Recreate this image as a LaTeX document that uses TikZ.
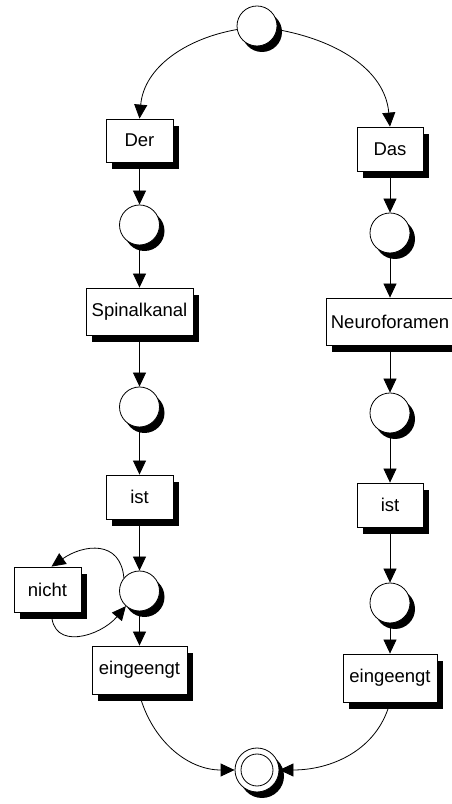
\documentclass[tikz,border=0pt]{standalone}
\usepackage{fontspec}
\setmainfont{Liberation Sans}
\usetikzlibrary{shadows,arrows.meta}
\begin{document}
\begin{tikzpicture}[x=1pt,y=1pt,
  every node/.style={font=\fontsize{18.5}{22}\selectfont},
  wordbox/.style={draw, fill=white, line width=0.8pt, minimum height=45pt, inner sep=2pt,
    general shadow={fill=black, shadow xshift=6pt, shadow yshift=-7pt}},
  state/.style={circle, draw, fill=white, line width=0.8pt, minimum size=40pt, inner sep=0pt,
    general shadow={fill=black, shadow xshift=5pt, shadow yshift=-6pt}},
  arr/.style={line width=0.8pt, -{Triangle[width=13pt,length=14pt]}}]
\useasboundingbox (0,0) rectangle (451,804);

% states
\node[state] (start) at (257,778) {};
\node[state, minimum size=44pt] (final) at (257,34) {};
\node[circle, draw, line width=0.8pt, minimum size=32pt, inner sep=0pt] (finalin) at (257,34) {};

% left branch
\node[wordbox, minimum width=67pt, minimum height=43pt] (der) at (139.5,663.5) {Der};
\node[state] (l1) at (139.5,579) {};
\node[wordbox, minimum width=107pt, minimum height=47pt] (spinal) at (139.5,492.5) {Spinalkanal};
\node[state] (l2) at (139.5,397) {};
\node[wordbox, minimum width=67pt, minimum height=44pt] (ist1) at (139.5,307) {ist};
\node[state] (l3) at (139.5,213) {};
\node[wordbox, minimum width=67pt] (nicht) at (47.5,214.5) {nicht};
\node[wordbox, minimum width=95pt, minimum height=48pt] (ein1) at (139.5,134) {eingeengt};

% right branch
\node[wordbox, minimum width=66pt, minimum height=44pt] (das) at (390,655) {Das};
\node[state] (r1) at (390,571) {};
\node[wordbox, minimum width=128pt, minimum height=47pt] (neuro) at (390,482.5) {Neuroforamen};
\node[state] (r2) at (390,391) {};
\node[wordbox, minimum width=66pt, minimum height=44pt] (ist2) at (390,299) {ist};
\node[state] (r3) at (390,201) {};
\node[wordbox, minimum width=94pt, minimum height=48pt] (ein2) at (390,126) {eingeengt};

% branching from the start state
\draw[arr] (start.190) to[out=190,in=85] (der.north);
\draw[arr] (start.-10) to[out=-10,in=95] (das.north);

% left chain
\draw[arr] (der) -- (l1);
\draw[arr] (l1) -- (spinal);
\draw[arr] (spinal) -- (l2);
\draw[arr] (l2) -- (ist1);
\draw[arr] (ist1) -- (l3);
\draw[arr] (l3) -- (ein1);

% optional "nicht" loop
\draw[arr] (l3.140) to[out=95,in=35,looseness=1.35] ([xshift=4pt]nicht.north);
\draw[arr] ([xshift=4pt]nicht.south) to[out=-90,in=230,looseness=1.35] (l3.228);

% right chain
\draw[arr] (das) -- (r1);
\draw[arr] (r1) -- (neuro);
\draw[arr] (neuro) -- (r2);
\draw[arr] (r2) -- (ist2);
\draw[arr] (ist2) -- (r3);
\draw[arr] (r3) -- (ein2);

% joining into the final state
\draw[arr] (ein1.south) to[out=-75,in=180] (final.west);
\draw[arr] (ein2.south) to[out=-105,in=0] (final.east);
\end{tikzpicture}
\end{document}
